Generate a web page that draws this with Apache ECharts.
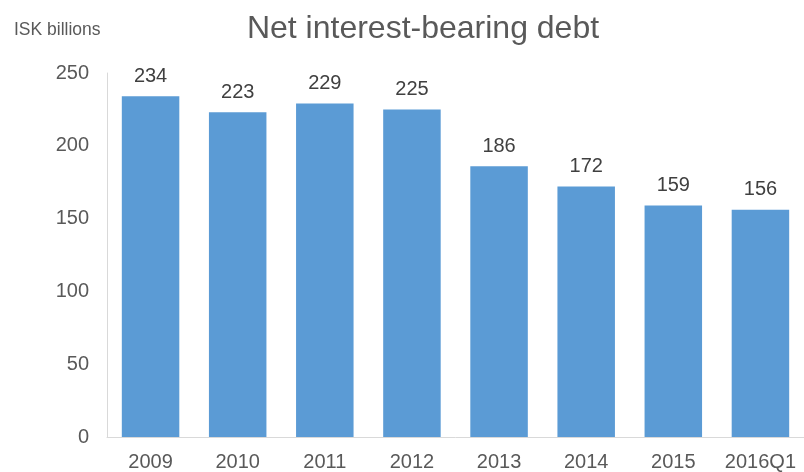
<!DOCTYPE html>
<html><head><meta charset="utf-8">
<script src="https://cdn.jsdelivr.net/npm/echarts@6/dist/echarts.min.js"></script>
<style>html,body{margin:0;padding:0;background:#fff}#c{width:804px;height:472px}</style>
</head><body><div id="c"></div>
<script>
const categories = ['2009','2010','2011','2012','2013','2014','2015','2016Q1'];
const debtValues = [234, 223, 229, 225, 186, 172, 159, 156];
const yTicks = [0, 50, 100, 150, 200, 250];

const chart = echarts.init(document.getElementById('c'), null, {renderer:'canvas'});
chart.setOption({
  backgroundColor:'#fff',
  animation:false,
  textStyle:{fontFamily:'Liberation Sans, Arial, sans-serif'},
  title:[{
    text:'Net interest-bearing debt', left:418, top:8, textAlign:'center',
    textStyle:{fontSize:32, fontWeight:'normal', color:'#595959', fontFamily:'Liberation Sans, Arial, sans-serif'}
  },{
    text:'ISK billions', left:9, top:16,
    textStyle:{fontSize:17.5, fontWeight:'normal', color:'#595959', fontFamily:'Liberation Sans, Arial, sans-serif'}
  }],
  grid:{left:107, top:73, width:701, height:364, containLabel:false},
  xAxis:{
    type:'category', data:categories,
    axisLine:{show:true, lineStyle:{color:'#d9d9d9', width:1}},
    axisTick:{show:false},
    axisLabel:{fontSize:20, color:'#595959', margin:15, interval:0}
  },
  yAxis:{
    type:'value', min:yTicks[0], max:yTicks[yTicks.length-1], interval:50,
    axisLine:{show:true, lineStyle:{color:'#d9d9d9', width:1}},
    axisTick:{show:false},
    splitLine:{show:false},
    axisLabel:{fontSize:20, color:'#595959', margin:18}
  },
  series:[{
    type:'bar', data:debtValues, barWidth:'66%',
    itemStyle:{color:'#5B9BD5'},
    label:{show:true, position:'top', distance:10, fontSize:20, color:'#404040'}
  }]
});
</script></body></html>
